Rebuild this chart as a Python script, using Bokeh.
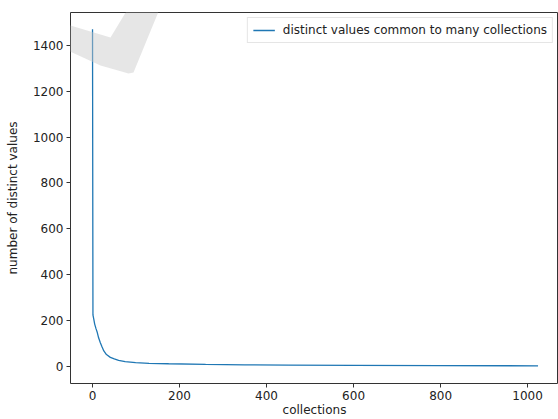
from bokeh.plotting import figure
from bokeh.models import FixedTicker, Legend, LegendItem, PolyAnnotation, Range1d
from bokeh.embed import file_html
from bokeh.resources import INLINE

# values
collections = [0, 1, 3, 5, 8, 11, 14, 18, 22, 26, 32, 41, 50, 60, 75, 99, 130, 175, 260, 350, 450, 600, 800, 1024]
distinct_values = [1470, 225, 205, 185, 165, 148, 125, 104, 85, 68, 52, 40, 33, 27, 21, 17, 14, 12, 9, 7, 6, 5, 4, 3]
x_ticks = [0, 200, 400, 600, 800, 1000]
y_ticks = [0, 200, 400, 600, 800, 1000, 1200, 1400]
series_label = "distinct values common to many collections"

FONT = "DejaVu Sans"
FRAME_LEFT, FRAME_TOP, FRAME_H = 70, 12, 372

p = figure(width=558, height=419, output_backend="svg", toolbar_location=None,
           x_range=Range1d(-50.6, 1071), y_range=Range1d(-74, 1543),
           min_border_left=FRAME_LEFT, min_border_right=0, min_border_top=FRAME_TOP, min_border_bottom=35)

p.background_fill_color = "white"
p.border_fill_color = "white"
p.outline_line_color = "#333333"
p.outline_line_width = 1
p.grid.visible = False

r = p.line(collections, distinct_values, line_color="#1f77b4", line_width=1.3)

for ax in (p.xaxis[0], p.yaxis[0]):
    ax.axis_line_color = None
    ax.major_tick_line_color = "#333333"
    ax.major_tick_out = 4
    ax.major_tick_in = 0
    ax.minor_tick_line_color = None
    ax.major_label_text_font = FONT
    ax.major_label_text_font_size = "12px"
    ax.major_label_text_color = "#222222"
    ax.axis_label_text_font = FONT
    ax.axis_label_text_font_size = "12px"
    ax.axis_label_text_font_style = "normal"
    ax.axis_label_text_color = "#222222"

p.xaxis.ticker = FixedTicker(ticks=x_ticks)
p.yaxis.ticker = FixedTicker(ticks=y_ticks)
p.xaxis.axis_label = "collections"
p.yaxis.axis_label = "number of distinct values"
p.xaxis.major_label_standoff = 3
p.yaxis.major_label_standoff = 3
p.xaxis.axis_label_standoff = 0
p.yaxis.axis_label_standoff = 10

legend = Legend(items=[LegendItem(label=series_label, renderers=[r])],
                location="top_right", margin=5, padding=5, spacing=0,
                glyph_width=22, glyph_height=12, label_standoff=8,
                label_text_font=FONT, label_text_font_size="12px",
                label_text_color="#222222",
                border_line_color="#cccccc", border_line_width=1,
                background_fill_alpha=0.8)
p.add_layout(legend)

# faint grey watermark shape at top-left, given in page pixels, converted to frame screen units
wm_x = [0, 30, 70, 110, 133, 163, 133, 128, 100, 65, 30, 0]
wm_y = [2, 12, 26, 38, 0, 0, 73, 74, 66, 50, 35, 22]
wm = PolyAnnotation(xs=[x - FRAME_LEFT for x in wm_x],
                    ys=[FRAME_TOP + FRAME_H - y for y in wm_y],
                    xs_units="screen", ys_units="screen",
                    fill_color="#c8c8c8", fill_alpha=0.45, line_color=None, level="overlay")
p.add_layout(wm)

open("out.html", "w").write(file_html(p, INLINE))
